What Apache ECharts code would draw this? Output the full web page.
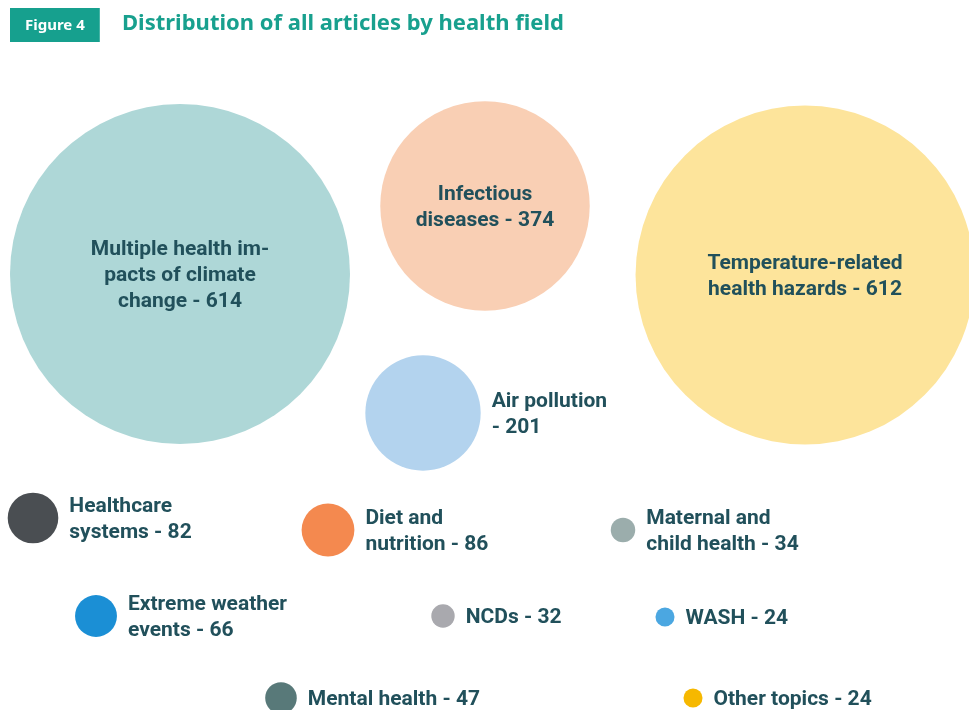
<!DOCTYPE html>
<html>
<head>
<meta charset="utf-8">
<script src="https://cdn.jsdelivr.net/npm/echarts@6/dist/echarts.min.js"></script>
<style>
html,body{margin:0;padding:0;background:#fff;}
#chart{width:969px;height:710px;}
</style>
</head>
<body>
<div id="chart"></div>
<script>
// ---- data ----
var categories = [
  'Multiple health impacts of climate change',
  'Infectious diseases',
  'Temperature-related health hazards',
  'Air pollution',
  'Healthcare systems',
  'Diet and nutrition',
  'Maternal and child health',
  'Extreme weather events',
  'NCDs',
  'WASH',
  'Mental health',
  'Other topics'
];
var articleCounts = [614, 374, 612, 201, 82, 86, 34, 66, 32, 24, 47, 24];
var labelTexts = [
  'Multiple health im-\npacts of climate\nchange - ',
  'Infectious\ndiseases - ',
  'Temperature-related\nhealth hazards - ',
  'Air pollution\n- ',
  'Healthcare\nsystems - ',
  'Diet and\nnutrition - ',
  'Maternal and\nchild health - ',
  'Extreme weather\nevents - ',
  'NCDs - ',
  'WASH - ',
  'Mental health - ',
  'Other topics - '
];

// ---- layout (packed bubble positions, in layout units) ----
var layoutX = [180, 485, 805, 423, 33, 328, 623, 96, 443, 665, 281, 693];
var layoutY = [274, 206, 275, 413, 518, 530, 530, 616, 616, 617, 698, 698];
var colors = ['#aed7d7', '#f9cfb4', '#fde49b', '#b3d3ee', '#4a4e52', '#f4894f',
              '#9badac', '#1b8fd5', '#a9a9ae', '#4ba7e1', '#587979', '#f6b800'];

var textColor = '#21505b';
var seriesData = categories.map(function (c, i) {
  var inside = articleCounts[i] > 250;
  return {
    name: c,
    value: [layoutX[i], layoutY[i], articleCounts[i]],
    itemStyle: { color: colors[i], opacity: 1 },
    label: {
      show: true,
      position: inside ? 'inside' : 'right',
      distance: 11,
      offset: [0, 2],
      align: inside ? 'center' : 'left',
      formatter: function () { return labelTexts[i] + articleCounts[i]; }
    }
  };
});

var chart = echarts.init(document.getElementById('chart'), null, { renderer: 'canvas' });
chart.setOption({
  backgroundColor: '#ffffff',
  animation: false,
  title: [
    {
      text: 'Figure 4',
      left: 10, top: 8,
      backgroundColor: '#16a08e',
      padding: [10, 15, 9, 15],
      textStyle: { color: '#ffffff', fontFamily: 'Noto Sans', fontWeight: 'bold', fontSize: 15 }
    },
    {
      text: 'Distribution of all articles by health field',
      left: 117, top: 8,
      textStyle: { color: '#18a08e', fontFamily: 'Noto Sans', fontWeight: 'bold', fontSize: 22 }
    }
  ],
  grid: { left: 0, right: 0, top: 0, bottom: 0 },
  xAxis: { type: 'value', min: 0, max: 969, show: false },
  yAxis: { type: 'value', min: 0, max: 710, inverse: true, show: false },
  series: [{
    type: 'scatter',
    symbol: 'circle',
    symbolSize: function (v) { return 2 * (0.272 * v[2] + 3); },
    data: seriesData,
    label: {
      color: textColor,
      fontFamily: 'Roboto',
      fontWeight: 'bold',
      fontSize: 21,
      lineHeight: 26
    },
    emphasis: { disabled: true }
  }]
});
</script>
</body>
</html>
